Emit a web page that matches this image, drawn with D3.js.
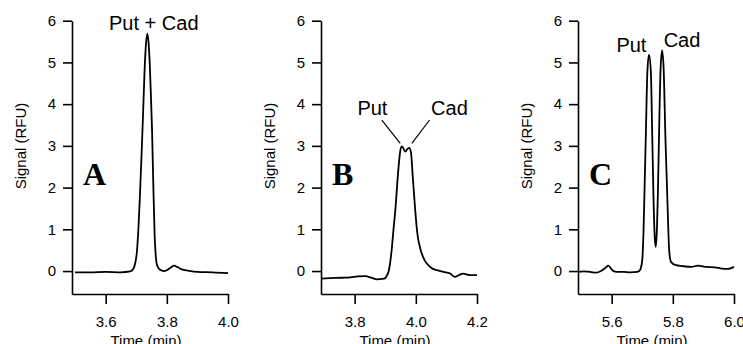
<!DOCTYPE html>
<html>
<head>
<meta charset="utf-8">
<script src="https://cdn.jsdelivr.net/npm/d3@7"></script>
<style>
  body { margin: 0; background: #fff; }
  svg { display: block; }
  text { font-family: 'Liberation Sans', Arial, Helvetica, sans-serif; fill: #000; }
  .axis path, .axis line { stroke: #000; stroke-width: 1.6; }
  .axis text { font-size: 15px; }
  .trace { fill: none; stroke: #000; stroke-width: 1.8; stroke-linejoin: round; }
  .letter { font-family: 'Liberation Serif', 'Times New Roman', serif; font-weight: bold; font-size: 32px; }
</style>
</head>
<body>
<div id="chart"></div>
<script>
// data: [time (min), signal (RFU)]
const traceA = [
  [3.500, -0.03], [3.550, -0.03], [3.600, -0.02], [3.650, -0.03], [3.680, -0.01],
  [3.690, 0.05], [3.697, 0.20], [3.702, 0.45], [3.707, 1.00], [3.712, 1.80],
  [3.717, 2.70], [3.722, 3.70], [3.727, 4.75], [3.731, 5.35], [3.736, 5.69],
  [3.740, 5.50], [3.744, 5.00], [3.748, 4.20], [3.752, 3.30], [3.756, 2.00],
  [3.760, 0.90], [3.764, 0.35], [3.769, 0.12], [3.778, 0.03], [3.790, 0.00],
  [3.800, 0.02], [3.812, 0.08], [3.824, 0.13], [3.836, 0.09], [3.849, 0.04],
  [3.870, 0.01], [3.900, -0.02], [3.950, -0.03], [4.000, -0.05]
];
const traceB = [
  [3.690, -0.18], [3.720, -0.17], [3.760, -0.16], [3.786, -0.15], [3.810, -0.13],
  [3.835, -0.12], [3.855, -0.16], [3.873, -0.20], [3.890, -0.19], [3.900, -0.17],
  [3.906, -0.10], [3.912, 0.02], [3.917, 0.25], [3.922, 0.58], [3.927, 1.00],
  [3.933, 1.46], [3.941, 2.26], [3.948, 2.82], [3.953, 2.99], [3.958, 2.96],
  [3.966, 2.86], [3.972, 2.92], [3.978, 2.95], [3.984, 2.85], [3.990, 2.26],
  [3.998, 1.46], [4.005, 0.90], [4.016, 0.50], [4.026, 0.30], [4.036, 0.18],
  [4.050, 0.08], [4.069, 0.02], [4.090, -0.02], [4.112, -0.06], [4.128, -0.14],
  [4.140, -0.10], [4.155, -0.06], [4.177, -0.10], [4.200, -0.10]
];
const traceC = [
  [5.490, -0.02], [5.510, -0.01], [5.530, -0.02], [5.550, -0.04], [5.565, 0.00],
  [5.580, 0.08], [5.589, 0.13], [5.598, 0.06], [5.608, -0.01], [5.616, -0.02],
  [5.640, -0.02], [5.660, -0.03], [5.683, -0.02], [5.690, 0.00], [5.695, 0.06],
  [5.700, 0.26], [5.704, 0.90], [5.708, 2.10], [5.7114, 3.14], [5.717, 4.81],
  [5.722, 5.18], [5.728, 4.81], [5.733, 3.14], [5.737, 1.70], [5.741, 0.80],
  [5.7445, 0.58], [5.748, 1.00], [5.751, 1.80], [5.7546, 3.14], [5.760, 4.85],
  [5.765, 5.29], [5.770, 4.85], [5.776, 3.14], [5.781, 2.00], [5.785, 1.06],
  [5.788, 0.50], [5.794, 0.22], [5.810, 0.14], [5.830, 0.12], [5.860, 0.10],
  [5.882, 0.13], [5.910, 0.10], [5.937, 0.09], [5.960, 0.06], [5.980, 0.05],
  [6.000, 0.10]
];

const xDomainA = [3.49, 4.0], xDomainB = [3.69, 4.2], xDomainC = [5.49, 6.0];
const xTicksA = [3.6, 3.8, 4.0], xTicksB = [3.8, 4.0, 4.2], xTicksC = [5.6, 5.8, 6.0];
const yTicks = [0, 1, 2, 3, 4, 5, 6];
const yDomain = [-0.55, 6];

const panelLetters = ['A', 'B', 'C'];
// peak labels: [panel, text, time, signal] (anchored at text start / baseline)
const peakLabels = [
  [0, 'Put + Cad', 3.611, 5.77],
  [1, 'Put', 3.809, 3.74], [1, 'Cad', 4.050, 3.74],
  [2, 'Put', 5.6155, 5.25], [2, 'Cad', 5.770, 5.37]
];
// leader lines in panel B: [t1, v1, t2, v2]
const leadersB = [[3.889, 3.62, 3.949, 3.06], [4.045, 3.62, 3.987, 3.06]];

// section: canvas
const svgWidth = 743, svgHeight = 344;
const svg = d3.select('#chart').append('svg').attr('width', svgWidth).attr('height', svgHeight);

const plotTop = 20.7, plotBottom = 294, plotWidth = 156;
const panelLefts = [72, 321, 578];

const panels = [
  {trace: traceA, xDomain: xDomainA, xTicks: xTicksA},
  {trace: traceB, xDomain: xDomainB, xTicks: xTicksB},
  {trace: traceC, xDomain: xDomainC, xTicks: xTicksC}
];

const y = d3.scaleLinear().domain(yDomain).range([plotBottom, plotTop]);

panels.forEach((p, i) => {
  const left = panelLefts[i];
  const x = d3.scaleLinear().domain(p.xDomain).range([left, left + plotWidth]);

  svg.append('g').attr('class', 'axis')
    .attr('transform', `translate(${left},0)`)
    .call(d3.axisLeft(y).tickValues(yTicks).tickFormat(d3.format('d'))
      .tickSize(9).tickPadding(7).tickSizeOuter(0));

  svg.append('g').attr('class', 'axis')
    .attr('transform', `translate(0,${plotBottom})`)
    .call(d3.axisBottom(x).tickValues(p.xTicks).tickFormat(d3.format('.1f'))
      .tickSize(10).tickPadding(12).tickSizeOuter(0));

  svg.selectAll('.axis text').attr('fill', '#000');

  const line = d3.line().x(d => x(d[0])).y(d => y(d[1])).curve(d3.curveMonotoneX);
  svg.append('path').datum(p.trace).attr('class', 'trace').attr('d', line);

  // axis titles
  svg.append('text')
    .attr('transform', `translate(${left - 46},146) rotate(-90)`)
    .attr('text-anchor', 'middle').style('font-size', '15px')
    .text('Signal (RFU)');
  svg.append('text')
    .attr('x', left + plotWidth / 2 - 4).attr('y', 346)
    .attr('text-anchor', 'middle').style('font-size', '15px')
    .text('Time (min)');

  svg.append('text').attr('class', 'letter')
    .attr('x', left + 11).attr('y', 185)
    .text(panelLetters[i]);

  peakLabels.filter(l => l[0] === i).forEach(l => {
    svg.append('text')
      .attr('x', x(l[2])).attr('y', y(l[3]))
      .style('font-size', '20px')
      .text(l[1]);
  });

  if (i === 1) {
    leadersB.forEach(l => {
      svg.append('line')
        .attr('x1', x(l[0])).attr('y1', y(l[1]))
        .attr('x2', x(l[2])).attr('y2', y(l[3]))
        .attr('stroke', '#000').attr('stroke-width', 1.2);
    });
  }
});
</script>
</body>
</html>
